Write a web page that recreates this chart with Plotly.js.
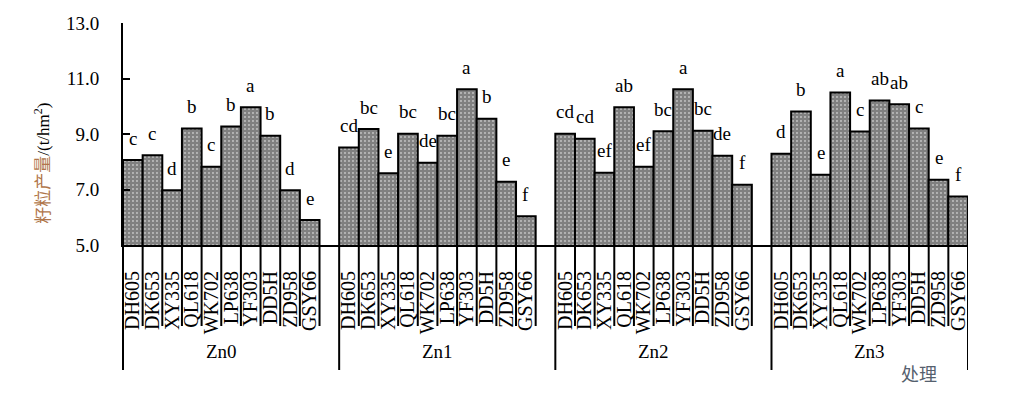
<!DOCTYPE html>
<html>
<head>
<meta charset="utf-8">
<script src="https://cdn.plot.ly/plotly-3.0.1.min.js"></script>
<style>html,body{margin:0;padding:0;background:#fff}#chart{width:1011px;height:395px}</style>
</head>
<body>
<div id="chart"></div>
<script>
const groups = ["Zn0", "Zn1", "Zn2", "Zn3"];
const varieties = ["DH605", "DK653", "XY335", "QL618", "WK702", "LP638", "YF303", "DD5H", "ZD958", "GSY66"];
const yieldZn0 = [8.06, 8.23, 6.97, 9.20, 7.82, 9.27, 9.96, 8.94, 6.97, 5.90];
const yieldZn1 = [8.51, 9.18, 7.59, 9.01, 7.96, 8.94, 10.61, 9.55, 7.28, 6.04];
const yieldZn2 = [9.01, 8.83, 7.60, 9.96, 7.82, 9.10, 10.61, 9.12, 8.22, 7.17];
const yieldZn3 = [8.29, 9.81, 7.53, 10.50, 9.09, 10.21, 10.07, 9.20, 7.35, 6.75];
const lettersZn0 = ["c", "c", "d", "b", "c", "b", "a", "b", "d", "e"];
const lettersZn1 = ["cd", "bc", "e", "bc", "de", "bc", "a", "b", "e", "f"];
const lettersZn2 = ["cd", "cd", "ef", "ab", "ef", "bc", "a", "bc", "de", "f"];
const lettersZn3 = ["d", "b", "e", "a", "c", "ab", "ab", "c", "e", "f"];
const yTickVals = [5, 7, 9, 11, 13];
const yTickText = ["5.0", "7.0", "9.0", "11.0", "13.0"];

const allYields = [yieldZn0, yieldZn1, yieldZn2, yieldZn3];
const allLetters = [lettersZn0, lettersZn1, lettersZn2, lettersZn3];
const slot = varieties.length + 1;

const xs = [], ys = [], names = [];
allYields.forEach((arr, g) => arr.forEach((v, i) => {
  xs.push(g * slot + i); ys.push(v); names.push(varieties[i]);
}));

const serif = 'Liberation Serif, "Noto Sans CJK SC", serif';

const trace = {
  type: 'bar', x: xs, y: ys, width: 1,
  marker: {
    color: '#808080',
    line: {color: '#000', width: 2},
    pattern: {shape: '.', fgcolor: '#ffffff', bgcolor: '#808080', size: 4, solidity: 0.1, fillmode: 'replace'}
  },
  hoverinfo: 'x+y'
};

const annotations = [];
allLetters.forEach((arr, g) => arr.forEach((t, i) => {
  annotations.push({x: g * slot + i, y: allYields[g][i], xref: 'x', yref: 'y', text: t,
    showarrow: false, yshift: 22, xanchor: 'center', yanchor: 'middle', font: {family: serif, size: 19, color: '#000'}});
}));
groups.forEach((gname, g) => {
  annotations.push({x: g * slot + (varieties.length - 1) / 2, y: -0.48, xref: 'x', yref: 'paper',
    text: gname, showarrow: false, xanchor: 'center', yanchor: 'middle', font: {family: serif, size: 19, color: '#000'}});
});
annotations.push({x: 0.942, y: -0.586, xref: 'paper', yref: 'paper', text: '处理', showarrow: false,
  xanchor: 'center', yanchor: 'middle', font: {family: serif, size: 18, color: '#55606e'}});
annotations.push({x: -0.096, y: 0.37, xref: 'paper', yref: 'paper', textangle: -90, showarrow: false,
  xanchor: 'center', yanchor: 'middle',
  text: '<span style="color:#b0764a">籽粒产量</span>/(t/hm<sup>2</sup>)',
  font: {family: serif, size: 17, color: '#000'}});

const shapes = [];
shapes.push({type: 'line', xref: 'paper', yref: 'paper', x0: 0, x1: 0, y0: 0, y1: -0.563, line: {color: '#000', width: 2}});
for (let g = 0; g < groups.length; g++) {
  for (let i = 1; i <= varieties.length; i++) {
    const xb = g * slot + i - 0.5;
    const isLast = (g === groups.length - 1 && i === varieties.length);
    shapes.push({type: 'line', xref: 'x', yref: 'paper', x0: xb, x1: xb, y0: 0, y1: isLast ? -0.563 : -0.365,
      line: {color: '#000', width: 2}});
  }
  if (g > 0) {
    const xg = g * slot - 0.5;
    shapes.push({type: 'line', xref: 'x', yref: 'paper', x0: xg, x1: xg, y0: 0, y1: -0.563, line: {color: '#000', width: 2}});
  }
}

const layout = {
  width: 1011, height: 395,
  margin: {l: 123, r: 43, t: 23, b: 150},
  paper_bgcolor: '#fff', plot_bgcolor: '#fff',
  showlegend: false, bargap: 0,
  xaxis: {
    range: [-0.5, groups.length * slot - 1.5], tickvals: xs, ticktext: names, tickangle: -90,
    ticks: '', showline: true, linecolor: '#000', linewidth: 2, showgrid: false, zeroline: false,
    tickfont: {family: serif, size: 20, color: '#000'}, ticklabelstandoff: 16, fixedrange: true
  },
  yaxis: {
    range: [5, 13], tickvals: yTickVals, ticktext: yTickText, ticks: 'inside', ticklen: 7, tickwidth: 2,
    tickcolor: '#000', showline: true, linecolor: '#000', linewidth: 2, showgrid: false, zeroline: false,
    tickfont: {family: serif, size: 19, color: '#000'}, ticklabelstandoff: 18, fixedrange: true
  },
  annotations: annotations, shapes: shapes
};

Plotly.newPlot('chart', [trace], layout, {displayModeBar: false, staticPlot: true});
</script>
</body>
</html>
